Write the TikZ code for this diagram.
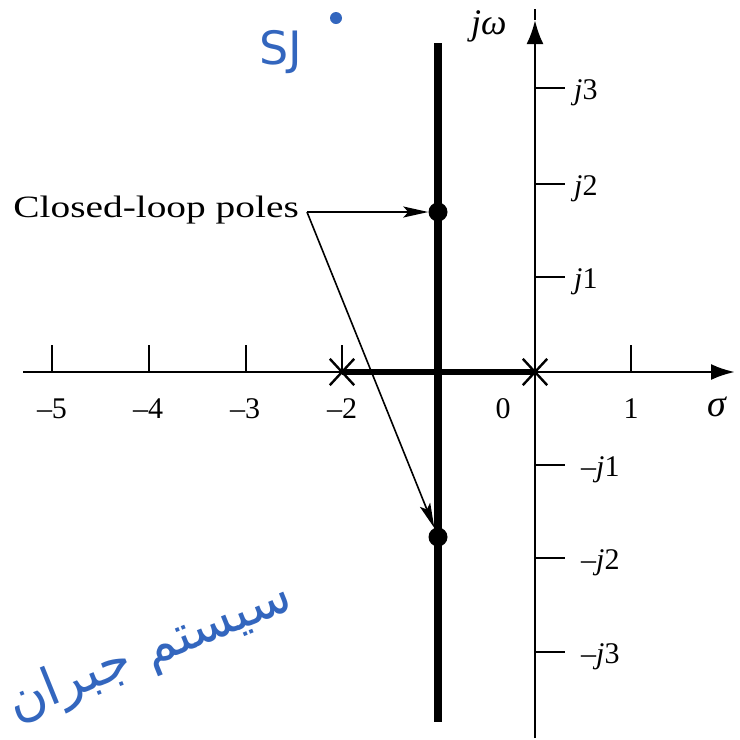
\documentclass[tikz,border=0pt]{standalone}
\usepackage{graphicx}
\usepackage{fontspec}
\setmainfont{Liberation Serif}
\newfontfamily\arabicfont[Script=Arabic]{DejaVu Sans}
\newfontfamily\handfont{DejaVu Sans}
\TeXXeTstate=1
\usetikzlibrary{arrows.meta,shapes.misc}
\definecolor{handblue}{RGB}{51,102,190}
\begin{document}
\begin{tikzpicture}[x=1pt,y=-1pt,
  axis/.style={line width=2.8pt},
  locus/.style={line width=8pt},
  locush/.style={line width=6pt},
  tickmark/.style={line width=2.2pt},
  lbl/.style={font=\fontsize{30}{32}\selectfont, inner sep=0pt},
  pole/.style={cross out, draw, line width=2.4pt, minimum width=22pt, minimum height=24pt, inner sep=0pt},
  clpole/.style={circle, fill, inner sep=0pt, minimum size=19pt},
  pointer/.style={line width=1.6pt, -{Stealth[length=25pt,width=11pt,inset=5pt]}},
  hand/.style={text=handblue, inner sep=0pt}]
\useasboundingbox (0,0) rectangle (740,740);
% axes
\coordinate (xs) at (23,372);
\coordinate (xe) at (735,372);
\coordinate (ys) at (535,738);
\coordinate (ye) at (535,20);
\coordinate (yt) at (535,9);
\draw[axis,-{Latex[length=24pt,width=16pt]}] (xs) -- (xe);
\draw[axis,-{Latex[length=24pt,width=17pt]}] (ys) -- (ye);
\draw[axis] (ye) -- (yt);
% ticks on real axis
\foreach \xx/\nm in {52/m5,149/m4,246/m3,342/m2,631/p1}{
  \coordinate (t\nm a) at (\xx,345);
  \coordinate (t\nm b) at (\xx,372);
  \draw[tickmark] (t\nm a) -- (t\nm b);
}
% ticks on imaginary axis
\foreach \yy/\nm in {88/j3,184/j2,277/j1,465/mj1,558/mj2,652/mj3}{
  \coordinate (t\nm a) at (535,\yy);
  \coordinate (t\nm b) at (565,\yy);
  \draw[tickmark] (t\nm a) -- (t\nm b);
}
% real-axis labels
\node[lbl,anchor=base] (lm5) at (52,418) {–5};
\node[lbl,anchor=base] (lm4) at (148,418) {–4};
\node[lbl,anchor=base] (lm3) at (245,418) {–3};
\node[lbl,anchor=base] (lm2) at (342,418) {–2};
\node[lbl,anchor=base] (l0) at (503,418) {0};
\node[lbl,anchor=base] (l1) at (631,418) {1};
\node[lbl,anchor=base,font=\fontsize{38}{40}\selectfont] (lsig) at (717,416) {\textit{σ}};
% imaginary-axis labels
\node[lbl,anchor=base west] (lj3) at (574,99) {\textit{j}3};
\node[lbl,anchor=base west] (lj2) at (574,195) {\textit{j}2};
\node[lbl,anchor=base west] (lj1) at (574,288) {\textit{j}1};
\node[lbl,anchor=base west] (lmj1) at (581,476) {–\textit{j}1};
\node[lbl,anchor=base west] (lmj2) at (581,569) {–\textit{j}2};
\node[lbl,anchor=base west] (lmj3) at (581,663) {–\textit{j}3};
\node[lbl,anchor=base west,font=\fontsize{36}{38}\selectfont] (ljw) at (471,34) {\textit{jω}};
% root locus
\coordinate (vt) at (438,43);
\coordinate (vb) at (438,722);
\draw[locus] (vt) -- (vb);
\node[pole] (p2) at (342,372) {};
\node[pole] (p0) at (535,372) {};
\draw[locush] (p2.center) -- (p0.center);
% closed-loop poles
\node[clpole] (d1) at (438,212) {};
\node[clpole] (d2) at (438,537) {};
\node[lbl,anchor=base east,font=\fontsize{31}{34}\selectfont] (cl) at (299,217) {\scalebox{1.27}[1]{Closed-loop poles}};
\coordinate (P) at (307,212);
\draw[pointer] (P) -- (d1);
\draw[pointer] (P) -- (d2);
% handwritten notes
\node[hand,font=\handfont\fontsize{46}{50}\selectfont] (sj) at (281,52) {SJ};
\node[circle,fill=handblue,inner sep=0pt,minimum size=12pt] (sjdot) at (336,18) {};
\node[hand,rotate=22,font=\arabicfont\fontsize{52}{56}\selectfont] (farsi) at (150,652) {\beginR سیستم جبران\endR};
\end{tikzpicture}
\end{document}
